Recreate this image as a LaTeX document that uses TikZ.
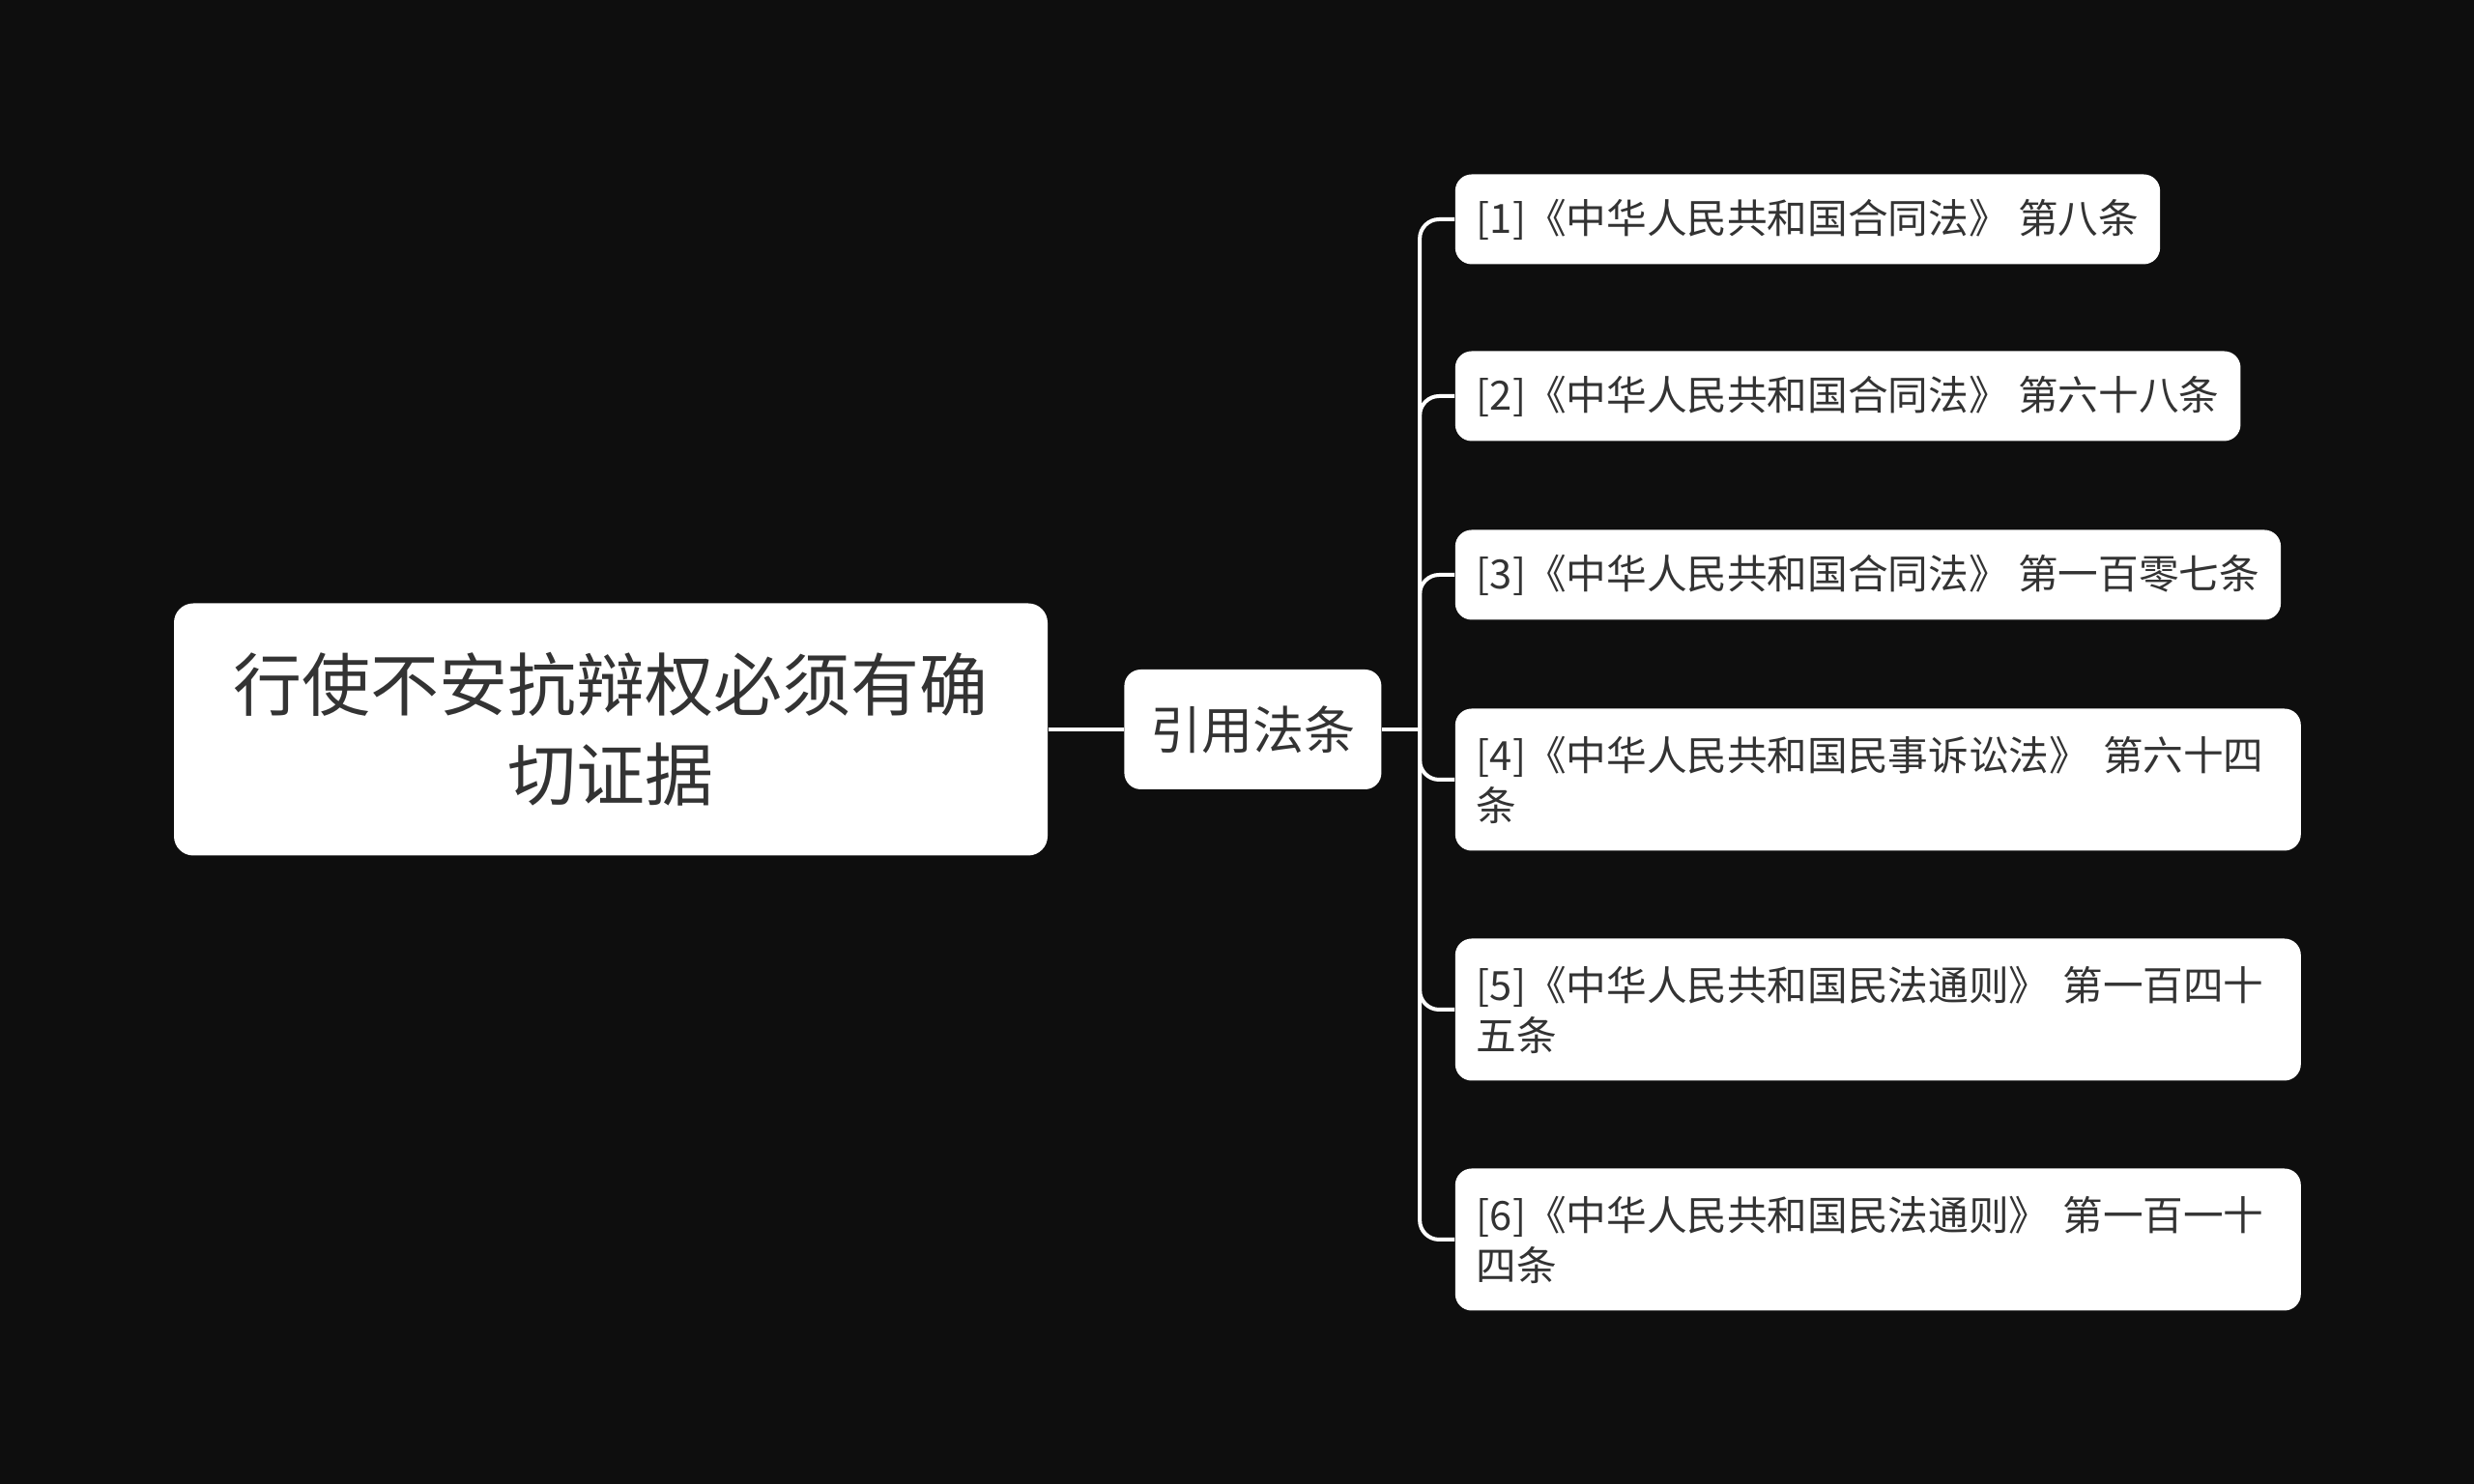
\documentclass[tikz,border=0pt]{standalone}
\usepackage{fontspec}
\setmainfont{Noto Sans CJK SC}
\usepackage{xcolor}
\usetikzlibrary{positioning}
\definecolor{bgdark}{HTML}{0E0E0E}
\definecolor{txtgray}{HTML}{333333}
\tikzstyle{rootbox} = [rectangle, rounded corners=0.2cm, fill=white, text=txtgray, minimum width=9.04cm, minimum height=2.61cm, align=center, font=\fontsize{20.2pt}{26.5pt}\selectfont]
\tikzstyle{midbox} = [rectangle, rounded corners=0.17cm, fill=white, text=txtgray, minimum width=2.66cm, minimum height=1.24cm, font=\fontsize{15.1pt}{18pt}\selectfont]
\tikzstyle{leafbox} = [rectangle, rounded corners=0.17cm, fill=white, text=txtgray, inner xsep=0.22cm, minimum height=0.93cm, align=left, font=\fontsize{11.85pt}{14.8pt}\selectfont]
\tikzstyle{longleaf} = [leafbox, text width=8.31cm, minimum height=1.47cm]
\tikzstyle{link} = [white, line width=0.04cm]
\tikzstyle{branch} = [link, rounded corners=0.2cm]

\begin{document}
\begin{tikzpicture}
    \fill [bgdark] (0,0) rectangle (25.6,15.36);
    \useasboundingbox (0,0) rectangle (25.6,15.36);
    \node (root) [rootbox] at (6.32,7.81) {行使不安抗辩权必须有确\\切证据};
    \node (cite) [midbox, right=0.78cm of root] {引用法条};
    \coordinate [right=0.39cm of cite] (hub);
    \node (law1) [leafbox, right=0.36cm of hub, yshift=5.28cm] {[1]《中华人民共和国合同法》 第八条};
    \node (law2) [leafbox, right=0.36cm of hub, yshift=3.45cm] {[2]《中华人民共和国合同法》 第六十八条};
    \node (law3) [leafbox, right=0.36cm of hub, yshift=1.60cm] {[3]《中华人民共和国合同法》 第一百零七条};
    \node (law4) [longleaf, right=0.36cm of hub, yshift=-0.52cm] {[4]《中华人民共和国民事诉讼法》~第六十四\\条};
    \node (law5) [longleaf, right=0.36cm of hub, yshift=-2.90cm] {[5]《中华人民共和国民法通则》~第一百四十\\五条};
    \node (law6) [longleaf, right=0.36cm of hub, yshift=-5.28cm] {[6]《中华人民共和国民法通则》~第一百一十\\四条};
    \draw [link] (root) -- (cite);
    \draw [link] (cite) -- (hub);
    \draw [branch] (hub) |- (law1);
    \draw [branch] (hub) |- (law2);
    \draw [branch] (hub) |- (law3);
    \draw [branch] (hub) |- (law4);
    \draw [branch] (hub) |- (law5);
    \draw [branch] (hub) |- (law6);
\end{tikzpicture}
\end{document}
